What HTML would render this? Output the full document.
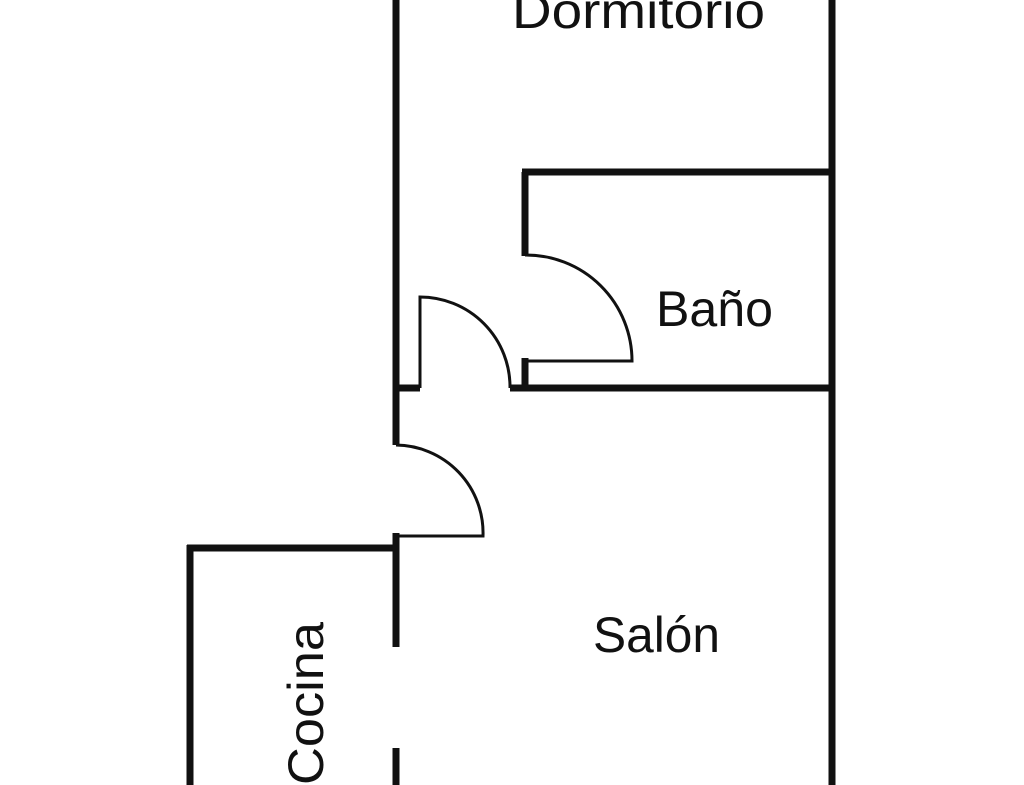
<!DOCTYPE html>
<html><head><meta charset="utf-8"><style>html,body{margin:0;padding:0;background:#fff}svg{display:block}</style></head>
<body>
<svg width="1024" height="785" viewBox="0 0 1024 785" xmlns="http://www.w3.org/2000/svg">
<rect width="1024" height="785" fill="#fff"/>
<g stroke="#111" stroke-width="7" fill="none" stroke-linecap="butt">
  <!-- main left wall -->
  <line x1="396" y1="0" x2="396" y2="445"/>
  <line x1="396" y1="533" x2="396" y2="647"/>
  <line x1="396" y1="748" x2="396" y2="785"/>
  <!-- right wall -->
  <line x1="832" y1="0" x2="832" y2="785"/>
  <!-- bath top -->
  <line x1="522" y1="172" x2="835" y2="172"/>
  <line x1="525" y1="172" x2="525" y2="256"/>
  <line x1="525" y1="358" x2="525" y2="388"/>
  <!-- bath bottom -->
  <line x1="510" y1="388" x2="835" y2="388"/>
  <line x1="393" y1="388" x2="420" y2="388"/>
  <!-- kitchen -->
  <line x1="187" y1="548" x2="399" y2="548"/>
  <line x1="190" y1="545" x2="190" y2="785"/>
</g>
<g stroke="#111" stroke-width="3" fill="none">
  <path d="M525 255 A106 106 0 0 1 632 361 L525 361"/>
  <path d="M420 388 L420 297 A90 90 0 0 1 510 388"/>
  <path d="M396 445 A88 88 0 0 1 483 536 L396 536"/>
</g>
<g font-family="Liberation Sans, sans-serif" fill="#111" font-size="50">
  <text x="512" y="28" textLength="253" lengthAdjust="spacingAndGlyphs">Dormitorio</text>
  <text x="656" y="326" textLength="117" lengthAdjust="spacingAndGlyphs">Baño</text>
  <text x="593" y="652" textLength="127" lengthAdjust="spacingAndGlyphs">Salón</text>
  <text transform="translate(323,785) rotate(-90)" x="0" y="0" textLength="163" lengthAdjust="spacingAndGlyphs">Cocina</text>
</g>
</svg>
</body></html>
